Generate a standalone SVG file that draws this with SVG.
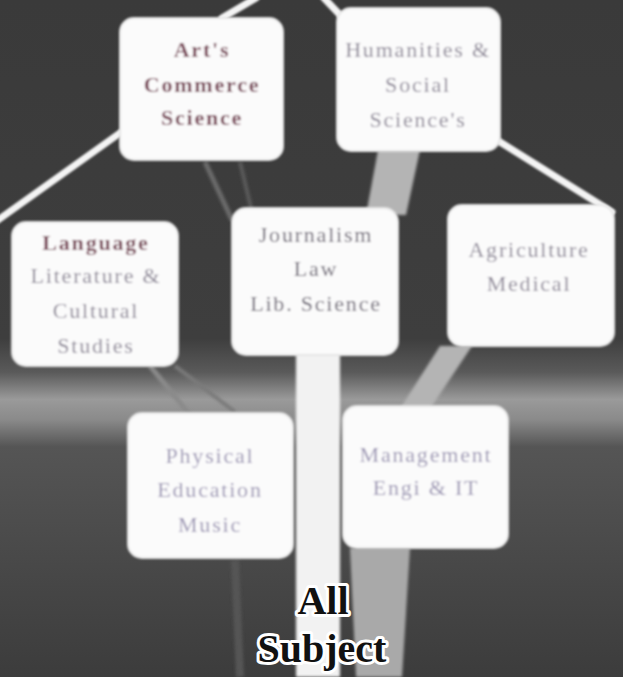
<svg xmlns="http://www.w3.org/2000/svg" width="623" height="677" viewBox="0 0 623 677">
<defs>
<linearGradient id="bg" x1="0" y1="0" x2="0" y2="1">
<stop offset="0" stop-color="#3a3a3a"/>
<stop offset="0.5" stop-color="#3e3e3e"/>
<stop offset="0.55" stop-color="#5a5a5a"/>
<stop offset="0.59" stop-color="#9a9a9a"/>
<stop offset="0.62" stop-color="#8a8a8a"/>
<stop offset="0.66" stop-color="#555"/>
<stop offset="1" stop-color="#3c3c3c"/>
</linearGradient>
<filter id="blur" x="-10%" y="-10%" width="120%" height="120%"><feGaussianBlur stdDeviation="1.5"/></filter>
<filter id="soft" x="-10%" y="-10%" width="120%" height="120%"><feGaussianBlur stdDeviation="0.8"/></filter>
</defs>
<style>
.box{fill:#fbfbfb;stroke:#e6e6e6;stroke-width:2}
.t{font-family:"Liberation Serif","Times New Roman",serif;font-size:22px;text-anchor:middle;letter-spacing:1.8px}
.maroon{fill:#7a4658;font-weight:bold}
.grey{fill:#8e8898}
.dark{fill:#6c6674}
.lav{fill:#9c96b4}
.conn{stroke:#f4f4f4;stroke-width:7;stroke-linecap:round;fill:none}
.stem{fill:#b4b4b4}
.all{font-family:"Liberation Serif","Times New Roman",serif;font-size:40px;font-weight:bold;text-anchor:middle;fill:#111;stroke:#fff;stroke-width:6;paint-order:stroke;stroke-linejoin:round}
</style>
<rect width="623" height="677" fill="url(#bg)"/>
<g id="stems" filter="url(#blur)">
<polygon class="stem" points="378,150 420,150 406,215 366,215"/>
<polygon class="stem" points="440,346 472,346 428,412 398,412" fill="#a8a8a8"/>
<polygon points="350,548 410,548 402,677 356,677" fill="#a9a9a9"/>
<rect x="296" y="352" width="44" height="325" fill="#f2f2f2"/>
<line x1="205" y1="162" x2="232" y2="220" stroke="#6a6a6a" stroke-width="5"/>
<line x1="240" y1="162" x2="252" y2="212" stroke="#5a5a5a" stroke-width="4"/>
<line x1="150" y1="366" x2="190" y2="415" stroke="#8a8a8a" stroke-width="5"/>
<line x1="175" y1="366" x2="235" y2="412" stroke="#7a7a7a" stroke-width="4"/>
<line x1="235" y1="560" x2="240" y2="677" stroke="#555" stroke-width="8"/>
</g>
<g id="connectors" filter="url(#soft)">
<line class="conn" x1="222" y1="18" x2="256" y2="-2"/>
<line class="conn" x1="341" y1="16" x2="324" y2="-2"/>
<line class="conn" x1="120" y1="133" x2="-2" y2="220"/>
<line class="conn" x1="500" y1="142" x2="612" y2="212"/>
</g>
<g id="n1" filter="url(#soft)">
<rect class="box" x="120" y="18" width="163" height="142" rx="14"/>
<text class="t maroon" x="202" y="57">Art's</text>
<text class="t maroon" x="202" y="92">Commerce</text>
<text class="t maroon" x="202" y="125">Science</text>
</g>
<g id="n2" filter="url(#soft)">
<rect class="box" x="337" y="8" width="163" height="143" rx="14"/>
<text class="t grey" x="418" y="57">Humanities &amp;</text>
<text class="t grey" x="418" y="92">Social</text>
<text class="t grey" x="418" y="127">Science's</text>
</g>
<g id="n3" filter="url(#soft)">
<rect class="box" x="12" y="222" width="166" height="144" rx="14"/>
<text class="t maroon" x="96" y="250">Language</text>
<text class="t grey" x="96" y="283">Literature &amp;</text>
<text class="t grey" x="96" y="318">Cultural</text>
<text class="t grey" x="96" y="353">Studies</text>
</g>
<g id="n4" filter="url(#soft)">
<rect class="box" x="232" y="208" width="166" height="147" rx="14"/>
<text class="t dark" x="316" y="242">Journalism</text>
<text class="t dark" x="316" y="276">Law</text>
<text class="t dark" x="316" y="311">Lib. Science</text>
</g>
<g id="n5" filter="url(#soft)">
<rect class="box" x="448" y="205" width="166" height="141" rx="14"/>
<text class="t grey" x="529" y="257">Agriculture</text>
<text class="t grey" x="529" y="291">Medical</text>
</g>
<g id="n6" filter="url(#soft)">
<rect class="box" x="128" y="413" width="165" height="145" rx="14"/>
<text class="t lav" x="210" y="463">Physical</text>
<text class="t lav" x="210" y="497">Education</text>
<text class="t lav" x="210" y="532">Music</text>
</g>
<g id="n7" filter="url(#soft)">
<rect class="box" x="343" y="406" width="165" height="142" rx="14"/>
<text class="t lav" x="426" y="462">Management</text>
<text class="t lav" x="426" y="495">Engi &amp; IT</text>
</g>
<g id="root">
<text class="all" x="323" y="614">All</text>
<text class="all" x="322" y="662">Subject</text>
</g>
</svg>
